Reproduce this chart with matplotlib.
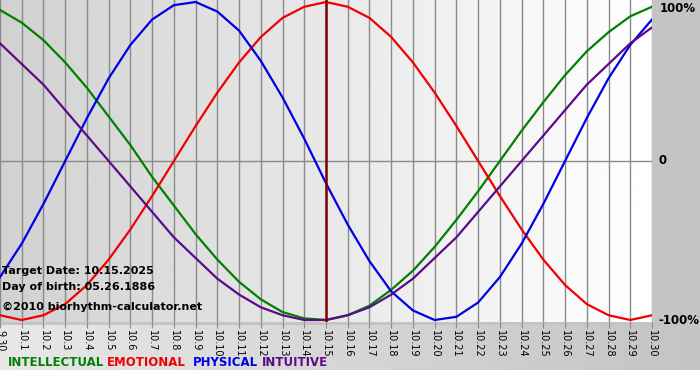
import numpy as np
import matplotlib
matplotlib.use("Agg")
import matplotlib.pyplot as plt
import matplotlib.transforms as mtransforms

# Dates on the x axis (9.30 .. 10.30)
dates = ["9.30"] + ["10.%d" % d for d in range(1, 31)]

# Cycle values, one per day (-1 .. 1)
physical = [-0.73, -0.52, -0.27, 0.00, 0.27, 0.52, 0.73, 0.89, 0.98, 1.00,
            0.94, 0.82, 0.63, 0.40, 0.14, -0.14, -0.40, -0.63, -0.82, -0.94,
            -1.00, -0.98, -0.89, -0.73, -0.52, -0.27, 0.00, 0.27, 0.52, 0.73, 0.89]
emotional = [-0.97, -1.00, -0.97, -0.90, -0.78, -0.62, -0.43, -0.22, 0.00, 0.22,
             0.43, 0.62, 0.78, 0.90, 0.97, 1.00, 0.97, 0.90, 0.78, 0.62,
             0.43, 0.22, 0.00, -0.22, -0.43, -0.62, -0.78, -0.90, -0.97, -1.00, -0.97]
intellectual = [0.95, 0.87, 0.76, 0.62, 0.46, 0.28, 0.10, -0.10, -0.28, -0.46,
                -0.62, -0.76, -0.87, -0.95, -0.99, -1.00, -0.97, -0.91, -0.81, -0.69,
                -0.54, -0.37, -0.19, 0.00, 0.19, 0.37, 0.54, 0.69, 0.81, 0.91, 0.97]
intuitive = [0.74, 0.61, 0.48, 0.32, 0.16, 0.00, -0.16, -0.32, -0.48, -0.61,
             -0.74, -0.84, -0.92, -0.97, -1.00, -1.00, -0.97, -0.92, -0.84, -0.74,
             -0.61, -0.48, -0.32, -0.16, 0.00, 0.16, 0.32, 0.48, 0.61, 0.74, 0.84]

target_index = dates.index("10.15")

W, H = 700, 380
fig = plt.figure(figsize=(W / 100, H / 100), dpi=100)
fig.patch.set_facecolor("white")

# figure background: grey, lighter band at the bottom left, white strip below
bg = fig.add_axes([0, 0, 1, 1], zorder=-10)
bg.set_axis_off()
img = np.ones((H, W, 3)) * (196 / 255)
xs = np.linspace(0, 1, W)
band = (232 - 36 * xs) / 255
img[325:370, :, :] = band[None, :, None]
img[370:, :, :] = 1.0
bg.imshow(img, aspect="auto", extent=[0, 1, 0, 1], interpolation="bilinear")
bg.set_xlim(0, 1)
bg.set_ylim(0, 1)

ax_w, ax_h = 652, 322
ax = fig.add_axes([0, 1 - ax_h / H, ax_w / W, ax_h / H])
pad = 2 / 159
ax.set_xlim(0, len(dates) - 1)
ax.set_ylim(-1 - pad, 1 + pad)

# plot background gradient, grey on the left to white on the right
grad = np.linspace(0.82, 1.0, 256)[None, :]
ax.imshow(grad, aspect="auto", cmap="gray", vmin=0, vmax=1,
          extent=[0, len(dates) - 1, -1 - pad, 1 + pad], zorder=0)

x = np.arange(len(dates))
for xi in x:
    ax.axvline(xi, color="#8a8a8a", lw=1, zorder=1)
ax.axhline(0, color="#8a8a8a", lw=1, zorder=1)

ax.plot(x, intellectual, color="#008000", lw=1.6, zorder=3)
ax.plot(x, emotional, color="#f00000", lw=1.6, zorder=3)
ax.plot(x, physical, color="#0000e6", lw=1.6, zorder=3)
ax.plot(x, intuitive, color="#5a0a8a", lw=1.6, zorder=3)
ax.axvline(target_index, color="#800000", lw=1.8, zorder=4)

for s in ax.spines.values():
    s.set_visible(False)
ax.set_yticks([])
ax.set_xticks(x)
ax.set_xticklabels(dates, rotation=270, fontsize=7, family="DejaVu Sans")
ax.tick_params(axis="x", direction="out", length=4, color="#8a8a8a", pad=1.5)

# right side labels
ax.text(1.012, 1 - 8 / ax_h, "100%", transform=ax.transAxes, fontsize=8.5,
        fontweight="bold", va="center", ha="left", clip_on=False)
trans = mtransforms.blended_transform_factory(ax.transAxes, ax.transData)
ax.text(1.01, 0.0, "0", transform=trans, fontsize=8.5, fontweight="bold",
        va="center", ha="left", clip_on=False)
ax.text(1.01, -1.0, "-100%", transform=trans, fontsize=8.5, fontweight="bold",
        va="center", ha="left", clip_on=False)

# info text
info = ax.transAxes
ax.text(0.003, 1 - 271 / ax_h, "Target Date: 10.15.2025", transform=info,
        fontsize=8, fontweight="bold", va="center", zorder=5)
ax.text(0.003, 1 - 287 / ax_h, "Day of birth: 05.26.1886", transform=info,
        fontsize=8, fontweight="bold", va="center", zorder=5)
ax.text(0.003, 1 - 307 / ax_h, "\u00a92010 biorhythm-calculator.net", transform=info,
        fontsize=8, fontweight="bold", va="center", zorder=5)

# legend
legend = [("INTELLECTUAL", "#008000", 8), ("EMOTIONAL", "#f00000", 107),
          ("PHYSICAL", "#0000e6", 193), ("INTUITIVE", "#5a0a8a", 262)]
for name, col, px in legend:
    fig.text(px / W, 1 - 363 / H, name, color=col, fontsize=8.5,
             fontweight="bold", va="center", ha="left")

fig.savefig("out.png", dpi=100, facecolor=fig.get_facecolor())
